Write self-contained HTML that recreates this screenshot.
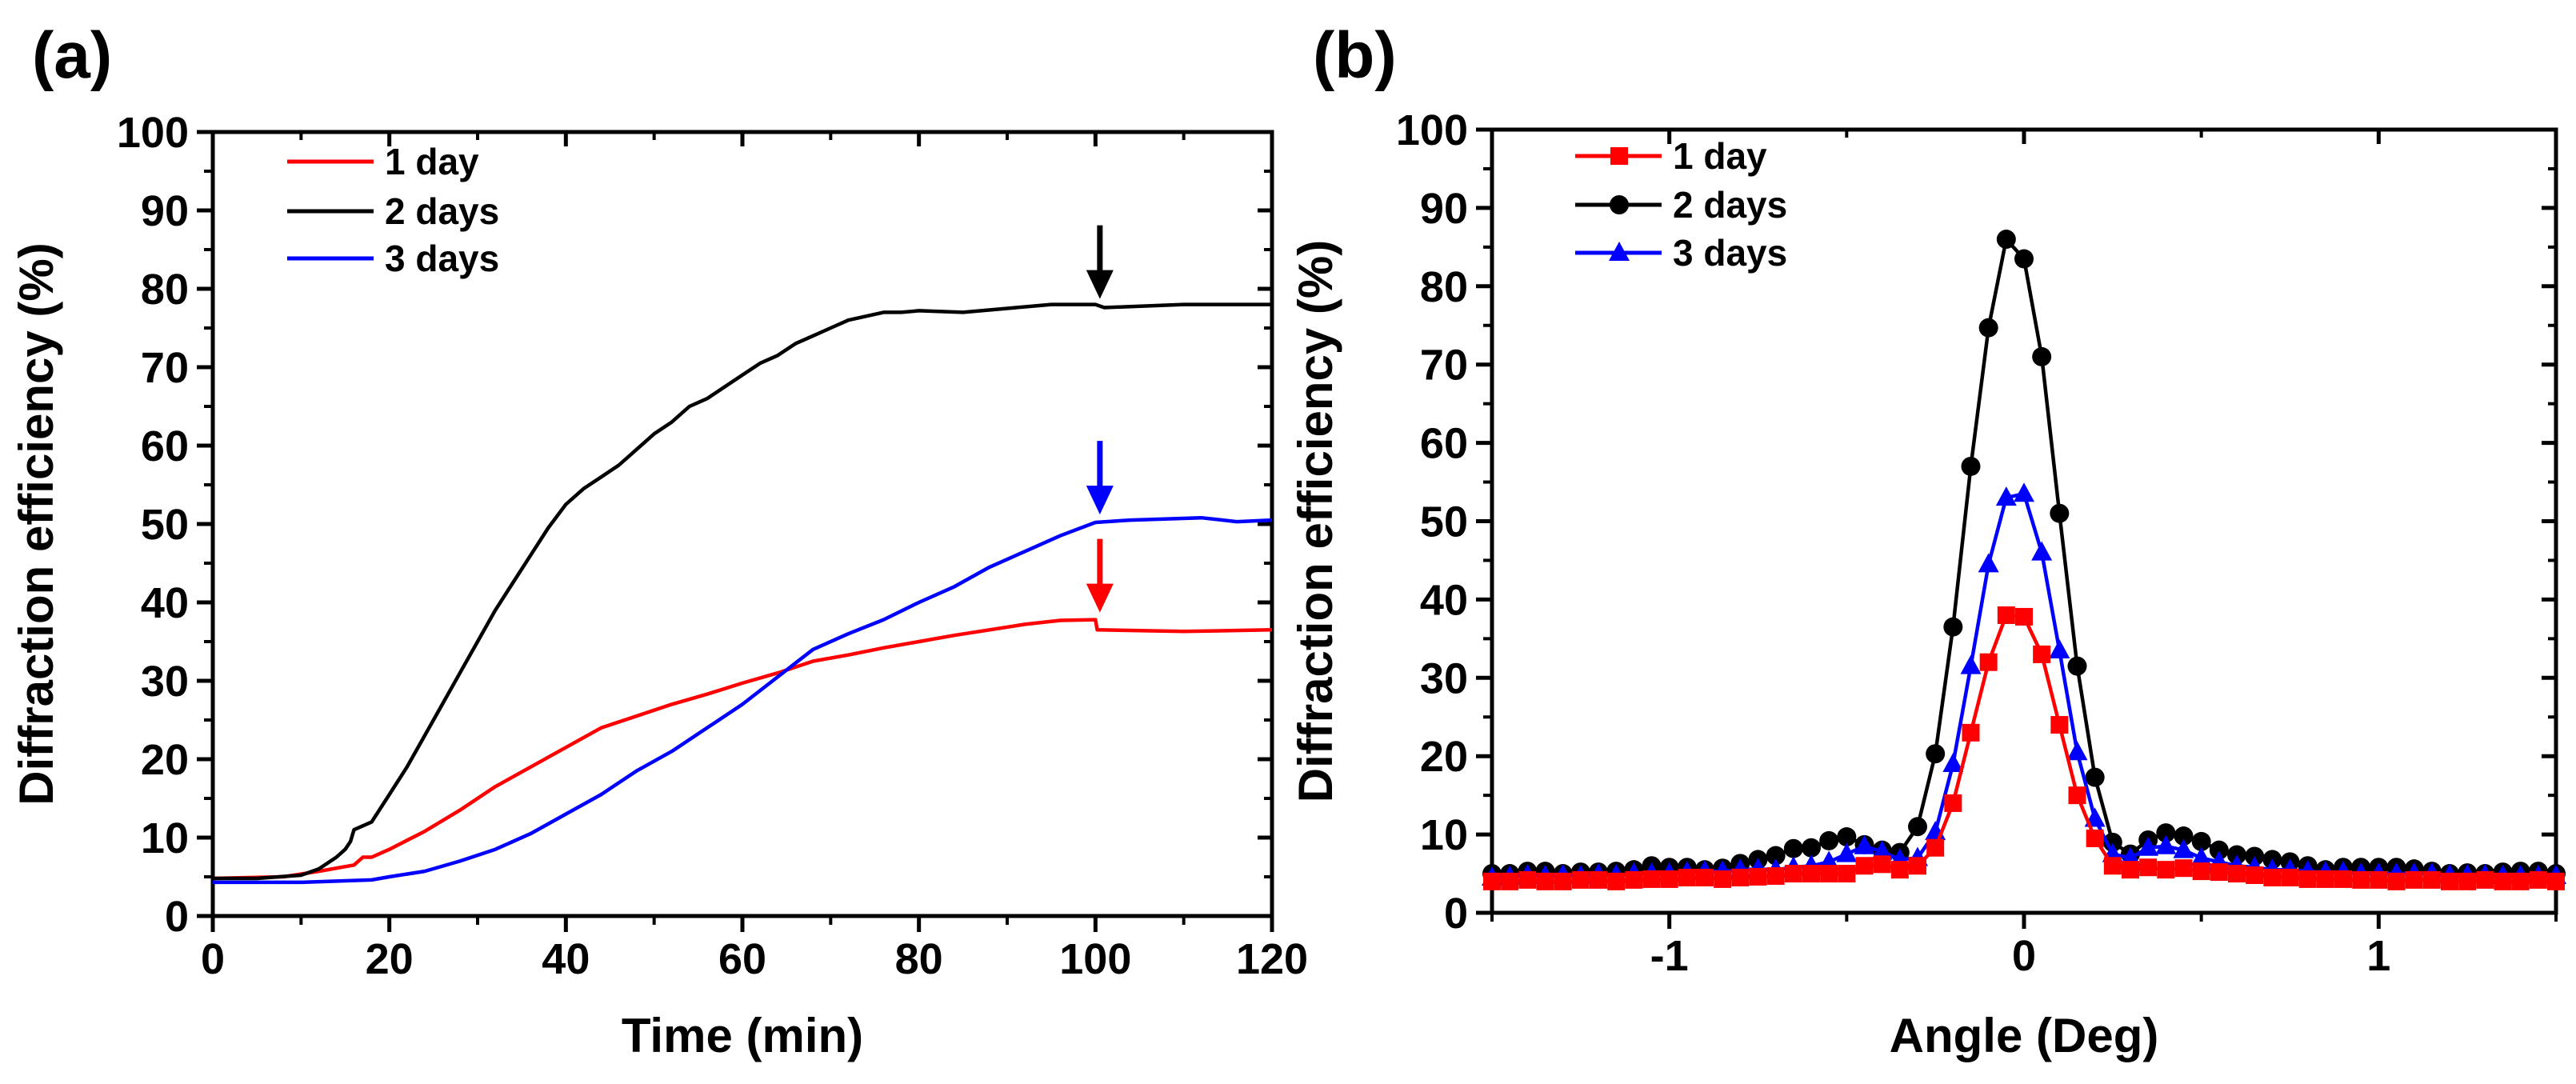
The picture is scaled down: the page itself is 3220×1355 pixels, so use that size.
<!DOCTYPE html>
<html><head><meta charset="utf-8"><style>
html,body{margin:0;padding:0;background:#fff;}
svg{display:block;font-family:"Liberation Sans",Arial,sans-serif;font-weight:bold;}
</style></head><body>
<svg id="fig" width="3220" height="1355" viewBox="0 0 3220 1355" xmlns="http://www.w3.org/2000/svg">
<g id="pa"></g>
<g id="pb"></g>
</svg>
<script>
// Panel (a) data
const aTime1 = [0,8,12,16,17,18,20,24,28,32,36,40,44,48,52,56,60,64,68,72,76,80,84,88,92,96,100,100.2,110,120];
const aDay1  = [4.8,5,5.7,6.5,7.5,7.5,8.5,10.8,13.5,16.5,19,21.5,24,25.5,27,28.3,29.7,31,32.5,33.3,34.2,35,35.8,36.5,37.2,37.7,37.8,36.5,36.3,36.5];
const aTime2 = [0,5,10,12,14,15,15.6,16,18,20,22,24,26,28,30,32,34,36,38,40,42,44,46,48,50,52,54,56,58,60,62,64,66,68,70,72,74,76,78,80,85,90,95,100,101,110,120];
const aDay2  = [4.8,4.8,5.2,6,7.5,8.5,9.5,11,12,15.5,19,23,27,31,35,39,42.5,46,49.5,52.5,54.5,56,57.5,59.5,61.5,63,65,66,67.5,69,70.5,71.5,73,74,75,76,76.5,77,77,77.2,77,77.5,78,78,77.6,78,78];
const aTime3 = [0,10,18,20,24,28,32,36,40,44,48,52,56,60,64,68,72,76,80,84,88,92,96,100,104,112,116,120];
const aDay3  = [4.3,4.3,4.6,5,5.7,7,8.5,10.5,13,15.5,18.5,21,24,27,30.5,34,36,37.8,40,42,44.5,46.5,48.5,50.2,50.5,50.8,50.3,50.5];
const aXTicks = [0,20,40,60,80,100,120];
const aYTicks = [0,10,20,30,40,50,60,70,80,90,100];
const aArrows = [{t:100.5,v:78,c:'#000'},{t:100.5,v:50.5,c:'#0000ff'},{t:100.5,v:38,c:'#ff0000'}];
// Panel (b) data
const bAngle = [-1.5,-1.45,-1.4,-1.35,-1.3,-1.25,-1.2,-1.15,-1.1,-1.05,-1.0,-0.95,-0.9,-0.85,-0.8,-0.75,-0.7,-0.65,-0.6,-0.55,-0.5,-0.45,-0.4,-0.35,-0.3,-0.25,-0.2,-0.15,-0.1,-0.05,0,0.05,0.1,0.15,0.2,0.25,0.3,0.35,0.4,0.45,0.5,0.55,0.6,0.65,0.7,0.75,0.8,0.85,0.9,0.95,1.0,1.05,1.1,1.15,1.2,1.25,1.3,1.35,1.4,1.45,1.5];
const bDay1 = [4,4,4.2,4,4,4.2,4.2,4,4.2,4.3,4.3,4.5,4.5,4.3,4.5,4.6,4.7,5,5,5,5,6,6.2,5.5,6,8.3,14,23,32,38,37.8,33,24,15,9.5,6,5.5,5.8,5.5,5.7,5.3,5.2,5,4.8,4.5,4.5,4.3,4.3,4.3,4.2,4.2,4,4.2,4.2,4,4,4.2,4,4,4.2,4];
const bDay2 = [5,5,5.3,5.3,5,5.2,5.2,5.3,5.5,6,5.8,5.8,5.5,5.7,6.3,6.8,7.3,8.2,8.3,9.2,9.7,8.7,8,7.7,11,20.3,36.5,57,74.7,86,83.5,71,51,31.5,17.3,9,7.5,9.3,10.2,9.8,9.1,8,7.4,7.2,6.8,6.5,6,5.5,5.8,5.8,5.8,5.8,5.6,5.3,5,5.1,5,5.2,5.3,5.3,5];
const bDay3 = [4.5,4.6,4.8,4.7,4.8,4.7,4.9,4.8,5,5,5,5.2,5.3,5.3,5.5,5.6,5.5,5.8,6,6.5,7.5,8.5,7.8,6.8,7,10.3,19,31.5,44.5,53,53.5,46,33.5,20.5,12,7.5,7,8.3,8.5,8,7,6.5,6,5.8,5.5,5.5,5.3,5.2,5.2,5,5,5,5,5,4.8,4.8,4.8,4.7,4.7,4.7,4.7];
const bXTicks = [-1,0,1];
const bYTicks = [0,10,20,30,40,50,60,70,80,90,100];

const NS='http://www.w3.org/2000/svg';
function mk(parent,tag,attrs,text){const e=document.createElementNS(NS,tag);for(const k in attrs)e.setAttribute(k,attrs[k]);if(text!==undefined)e.textContent=text;parent.appendChild(e);return e;}

function frame(g,L,R,T,B,xs,ys,xTicks,xMinor,yTicks,yMinor,xTitle,panelLabel,labX){
  const box=mk(g,'rect',{x:L,y:T,width:R-L,height:B-T,fill:'none',stroke:'#000','stroke-width':5});
  
  
  yTicks.forEach(v=>{const y=ys(v);
    mk(g,'line',{x1:L-20,x2:L,y1:y,y2:y,stroke:'#000','stroke-width':5});
    mk(g,'line',{x1:R,x2:R-18,y1:y,y2:y,stroke:'#000','stroke-width':5});
    const t=mk(g,'text',{x:L-30,y:y+19,'text-anchor':'end','font-size':54},String(v));
    
    
  });
  yMinor.forEach(v=>{const y=ys(v);
    mk(g,'line',{x1:L-11,x2:L,y1:y,y2:y,stroke:'#000','stroke-width':4});
    mk(g,'line',{x1:R,x2:R-10,y1:y,y2:y,stroke:'#000','stroke-width':4});});
  xTicks.forEach(v=>{const x=xs(v);
    mk(g,'line',{x1:x,x2:x,y1:B,y2:B+20,stroke:'#000','stroke-width':5});
    mk(g,'line',{x1:x,x2:x,y1:T,y2:T+18,stroke:'#000','stroke-width':5});
    const t=mk(g,'text',{x:x,y:B+72,'text-anchor':'middle','font-size':54},String(v));
    
    
  });
  xMinor.forEach(v=>{const x=xs(v);
    mk(g,'line',{x1:x,x2:x,y1:B,y2:B+11,stroke:'#000','stroke-width':4});
    mk(g,'line',{x1:x,x2:x,y1:T,y2:T+10,stroke:'#000','stroke-width':4});});
  const xt=mk(g,'text',{x:(L+R)/2,y:1315,'text-anchor':'middle','font-size':60},xTitle);
  
  
  const yt=mk(g,'text',{x:0,y:0,'text-anchor':'middle','font-size':60,transform:`translate(${L-200},${(T+B)/2}) rotate(-90)`},'Diffraction efficiency (%)');
  
  
  const pl=mk(g,'text',{x:labX,y:97,'font-size':82},panelLabel);
  
  
}

// ---------- Panel A ----------
(function(){
  const g=document.getElementById('pa');
  const L=266,R=1590,T=165,B=1145;
  const xs=t=>L+(t-0)/(120-0)*(R-L);
  const ys=v=>B-(v-0)/(100-0)*(B-T);
  frame(g,L,R,T,B,xs,ys,aXTicks,[10,30,50,70,90,110],aYTicks,[5,15,25,35,45,55,65,75,85,95],'Time (min)','(a)',40);
  const series=[[aTime1,aDay1,'#ff0000','curve-1-day'],[aTime3,aDay3,'#0000ff','curve-3-days'],[aTime2,aDay2,'#000000','curve-2-days']];
  series.forEach(([tx,vy,c,name])=>{
    const pts=tx.map((t,i)=>xs(t).toFixed(1)+','+ys(vy[i]).toFixed(1)).join(' ');
    const p=mk(g,'polyline',{points:pts,fill:'none',stroke:c,'stroke-width':4.5,'stroke-linejoin':'round'});
    
    
  });
  aArrows.forEach(a=>{
    const x=xs(a.t), yTip=ys(a.v)-7, yTail=yTip-92;
    const ag=mk(g,'g',{});
    
    
    mk(ag,'line',{x1:x,x2:x,y1:yTail,y2:yTip-30,stroke:a.c,'stroke-width':7});
    mk(ag,'polygon',{points:`${x-17},${yTip-36} ${x+17},${yTip-36} ${x},${yTip}`,fill:a.c});
  });
  const legend=[['1 day','#ff0000',202],['2 days','#000000',264],['3 days','#0000ff',323]];
  legend.forEach(([lab,c,y])=>{
    const lg=mk(g,'g',{});
    
    
    mk(lg,'line',{x1:359,x2:467,y1:y,y2:y,stroke:c,'stroke-width':5});
    mk(lg,'text',{x:481,y:y+16,'font-size':46},lab);
  });
})();

// ---------- Panel B ----------
(function(){
  const g=document.getElementById('pb');
  const L=1865,R=3195,T=162,B=1141;
  const xs=a=>L+(a-(-1.5))/(1.5-(-1.5))*(R-L);
  const ys=v=>B-(v-0)/(100-0)*(B-T);
  frame(g,L,R,T,B,xs,ys,bXTicks,[-1.5,-0.5,0.5,1.5],bYTicks,[5,15,25,35,45,55,65,75,85,95],'Angle (Deg)','(b)',1641);
  const cp=mk(g,'clipPath',{id:'cb'});mk(cp,'rect',{x:L-14,y:T,width:R-L+28,height:B-T});
  const series=[[bDay1,'#ff0000','sq','series-1-day'],[bDay2,'#000000','ci','series-2-days'],[bDay3,'#0000ff','tr','series-3-days']];
  function marker(par,shape,x,y,c){
    if(shape==='sq') return mk(par,'rect',{x:x-11,y:y-11,width:22,height:22,fill:c});
    if(shape==='ci') return mk(par,'circle',{cx:x,cy:y,r:12,fill:c});
    return mk(par,'polygon',{points:`${x},${y-14} ${x-13},${y+10} ${x+13},${y+10}`,fill:c});
  }
  const order=[1,2,0];
  order.forEach(i=>{
    const [vals,c,shape,name]=series[i];
    const sg=mk(g,'g',{'clip-path':'url(#cb)'});
    
    
    const pts=bAngle.map((a,k)=>xs(a).toFixed(1)+','+ys(vals[k]).toFixed(1)).join(' ');
    mk(sg,'polyline',{points:pts,fill:'none',stroke:c,'stroke-width':4.5});
    bAngle.forEach((a,k)=>{
      const m=marker(sg,shape,xs(a),ys(vals[k]),c);
      
      
    });
  });
  const legend=[['1 day','#ff0000','sq',195],['2 days','#000000','ci',256],['3 days','#0000ff','tr',316]];
  legend.forEach(([lab,c,shape,y])=>{
    const lg=mk(g,'g',{});
    
    
    mk(lg,'line',{x1:1969,x2:2077,y1:y,y2:y,stroke:c,'stroke-width':5});
    marker(lg,shape,2024,y,c);
    mk(lg,'text',{x:2091,y:y+16,'font-size':46},lab);
  });
})();
</script>
</body></html>
